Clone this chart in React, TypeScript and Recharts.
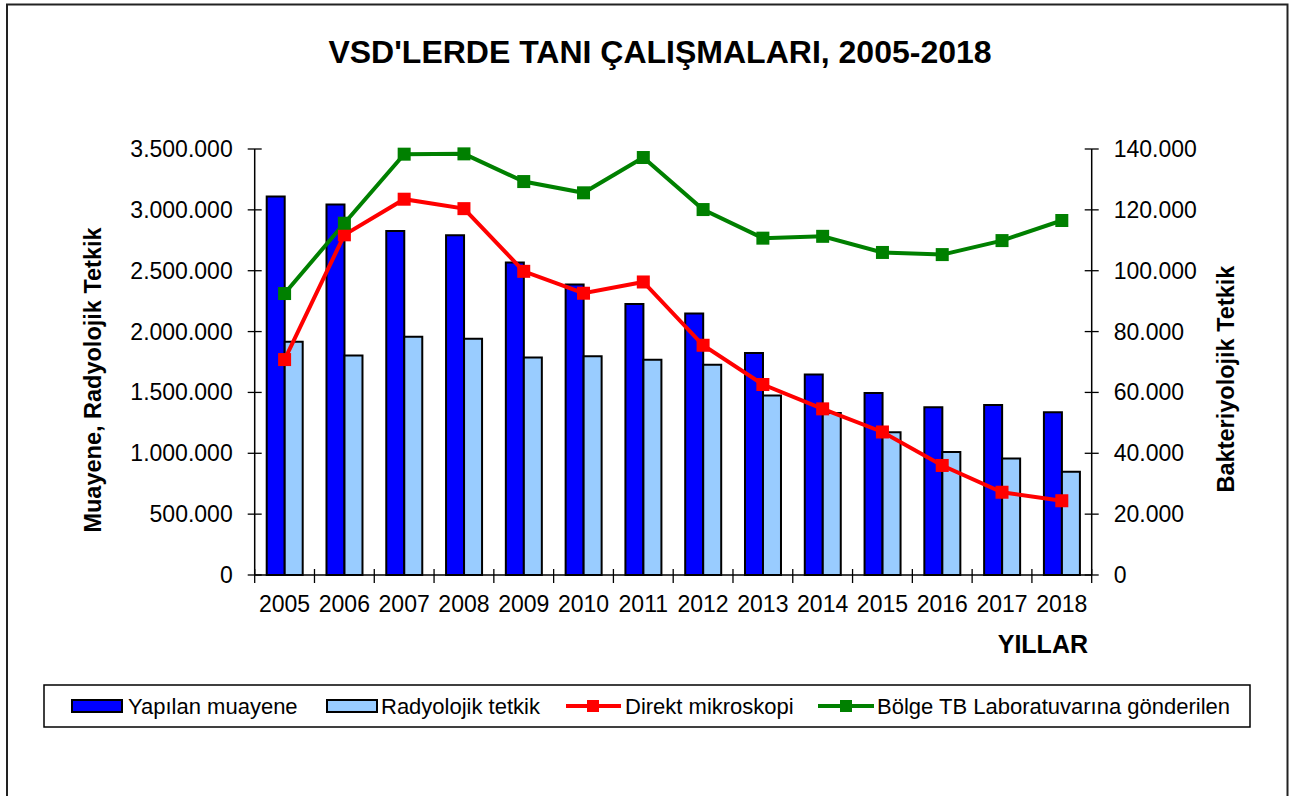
import React from 'react';
import { ComposedChart, Bar, Line, XAxis, YAxis } from 'recharts';

const YEARS = ['2005', '2006', '2007', '2008', '2009', '2010', '2011', '2012', '2013', '2014', '2015', '2016', '2017', '2018'];
const MUAYENE = [3110000, 3044000, 2827000, 2792000, 2567000, 2386000, 2226000, 2149000, 1823000, 1647000, 1496000, 1378000, 1397000, 1337000];
const RADYOLOJIK = [1916000, 1803000, 1957000, 1941000, 1787000, 1798000, 1768000, 1727000, 1474000, 1331000, 1172000, 1010000, 958000, 848000];
const DIREKT = [70800, 111800, 123500, 120400, 99800, 92600, 96300, 75500, 62600, 54600, 47000, 36000, 27200, 24400];
const BOLGE = [92500, 115600, 138300, 138400, 129300, 125600, 137200, 120100, 110700, 111300, 106000, 105300, 109900, 116500];
const LEFT_TICKS = [0, 500000, 1000000, 1500000, 2000000, 2500000, 3000000, 3500000];
const RIGHT_TICKS = [0, 20000, 40000, 60000, 80000, 100000, 120000, 140000];

const TITLE = "VSD'LERDE TANI ÇALIŞMALARI, 2005-2018";
const LEFT_LABEL = 'Muayene, Radyolojik Tetkik';
const RIGHT_LABEL = 'Bakteriyolojik Tetkik';
const X_LABEL = 'YILLAR';
const SERIES_NAMES = ['Yapılan muayene', 'Radyolojik tetkik', 'Direkt mikroskopi', 'Bölge TB Laboratuvarına gönderilen'];

const data = YEARS.map((y, i) => ({
  year: y,
  muayene: MUAYENE[i],
  radyolojik: RADYOLOJIK[i],
  direkt: DIREKT[i],
  bolge: BOLGE[i],
}));

const FONT = '"Liberation Sans", Arial, sans-serif';
const W = 1290;
const H = 796;
const PLOT_LEFT = 254.7;
const PLOT_RIGHT = 1091.7;
const PLOT_TOP = 149;
const PLOT_BOTTOM = 575;
const AXIS_W = 100;
const XAXIS_H = 40;
const BAND = (PLOT_RIGHT - PLOT_LEFT) / YEARS.length;
const BLUE = '#0000FF';
const LIGHT = '#99CCFF';
const RED = '#FF0000';
const GREEN = '#008000';

const fmt = (v: number) => String(v).replace(/\B(?=(\d{3})+(?!\d))/g, '.');

const LeftTick = (props: any) => {
  const { x, y, payload } = props;
  const ax = x + 22;
  return (
    <g>
      <line x1={ax - 7} x2={ax + 7} y1={y} y2={y} stroke="#000" strokeWidth={1.3} />
      <text x={x} y={y} textAnchor="end" dominantBaseline="central" fontSize={23} fontFamily={FONT} fill="#000">
        {fmt(payload.value)}
      </text>
    </g>
  );
};

const RightTick = (props: any) => {
  const { x, y, payload } = props;
  const ax = x - 22;
  return (
    <g>
      <line x1={ax - 7} x2={ax + 7} y1={y} y2={y} stroke="#000" strokeWidth={1.3} />
      <text x={x} y={y} textAnchor="start" dominantBaseline="central" fontSize={23} fontFamily={FONT} fill="#000">
        {fmt(payload.value)}
      </text>
    </g>
  );
};

const XTick = (props: any) => {
  const { x, y, payload, index } = props;
  const ay = y - 16;
  return (
    <g>
      <line x1={x - BAND / 2} x2={x - BAND / 2} y1={ay - 6} y2={ay + 8} stroke="#000" strokeWidth={1.3} />
      {index === YEARS.length - 1 ? (
        <line x1={x + BAND / 2} x2={x + BAND / 2} y1={ay - 6} y2={ay + 8} stroke="#000" strokeWidth={1.3} />
      ) : null}
      <text x={x} y={y + 21} textAnchor="middle" fontSize={23} fontFamily={FONT} fill="#000">
        {payload.value}
      </text>
    </g>
  );
};

const squareDot = (color: string) => (props: any) => {
  const { cx, cy, index } = props;
  if (cx == null || cy == null) return <g key={`d-${index}`} />;
  return <rect key={`d-${color}-${index}`} x={cx - 6.5} y={cy - 6.5} width={13} height={13} fill={color} />;
};

export default function App() {
  return (
    <div style={{ position: 'absolute', left: 0, top: 0, width: W, height: H, overflow: 'hidden', background: '#fff', fontFamily: FONT }}>
      <div style={{ position: 'absolute', left: 0, top: 0 }}>
        <ComposedChart
          width={W}
          height={H}
          data={data}
          margin={{
            top: PLOT_TOP,
            left: PLOT_LEFT - AXIS_W,
            right: W - PLOT_RIGHT - AXIS_W,
            bottom: H - PLOT_BOTTOM - XAXIS_H,
          }}
          barCategoryGap={12}
          barGap={0}
        >
          <XAxis
            dataKey="year"
            height={XAXIS_H}
            axisLine={{ stroke: '#000', strokeWidth: 1.5 }}
            tickLine={false}
            tickSize={8}
            tickMargin={8}
            interval={0}
            tick={<XTick />}
          />
          <YAxis
            yAxisId="left"
            orientation="left"
            width={AXIS_W}
            domain={[0, 3500000]}
            ticks={LEFT_TICKS}
            interval={0}
            axisLine={{ stroke: '#000', strokeWidth: 1.5 }}
            tickLine={false}
            tickSize={8}
            tickMargin={14}
            tick={<LeftTick />}
          />
          <YAxis
            yAxisId="right"
            orientation="right"
            width={AXIS_W}
            domain={[0, 140000]}
            ticks={RIGHT_TICKS}
            interval={0}
            axisLine={{ stroke: '#000', strokeWidth: 1.5 }}
            tickLine={false}
            tickSize={8}
            tickMargin={14}
            tick={<RightTick />}
          />
          <Bar yAxisId="left" dataKey="muayene" name={SERIES_NAMES[0]} fill={BLUE} stroke="#000" strokeWidth={2} isAnimationActive={false} />
          <Bar yAxisId="left" dataKey="radyolojik" name={SERIES_NAMES[1]} fill={LIGHT} stroke="#000" strokeWidth={2} isAnimationActive={false} />
          <Line yAxisId="right" type="linear" dataKey="direkt" name={SERIES_NAMES[2]} stroke={RED} strokeWidth={4} dot={squareDot(RED)} activeDot={false} isAnimationActive={false} />
          <Line yAxisId="right" type="linear" dataKey="bolge" name={SERIES_NAMES[3]} stroke={GREEN} strokeWidth={4} dot={squareDot(GREEN)} activeDot={false} isAnimationActive={false} />
        </ComposedChart>
      </div>
      <svg width={W} height={H} style={{ position: 'absolute', left: 0, top: 0 }} fontFamily={FONT}>
        <rect x={7} y={4.5} width={1280.5} height={900} fill="none" stroke="#222" strokeWidth={2} />
        <text x={660} y={63} textAnchor="middle" fontSize={32} fontWeight="bold" fill="#000">{TITLE}</text>
        <text x={93} y={380} transform="rotate(-90 93 380)" textAnchor="middle" dominantBaseline="central" fontSize={23.5} fontWeight="bold" fill="#000">{LEFT_LABEL}</text>
        <text x={1226} y={379} transform="rotate(-90 1226 379)" textAnchor="middle" dominantBaseline="central" fontSize={23.5} fontWeight="bold" fill="#000">{RIGHT_LABEL}</text>
        <text x={1088} y={653} textAnchor="end" fontSize={25} fontWeight="bold" fill="#000">{X_LABEL}</text>
        <g>
          <rect x={44} y={685} width={1206} height={42} fill="#fff" stroke="#000" strokeWidth={1.5} />
          <rect x={72} y={700} width={50} height={12} fill={BLUE} stroke="#000" strokeWidth={2} />
          <text x={128} y={706} dominantBaseline="central" fontSize={22} fill="#000">{SERIES_NAMES[0]}</text>
          <rect x={327} y={700} width={50} height={12} fill={LIGHT} stroke="#000" strokeWidth={2} />
          <text x={381} y={706} dominantBaseline="central" fontSize={22} fill="#000">{SERIES_NAMES[1]}</text>
          <line x1={566} x2={621} y1={706} y2={706} stroke={RED} strokeWidth={4} />
          <rect x={587} y={700} width={12} height={12} fill={RED} />
          <text x={625} y={706} dominantBaseline="central" fontSize={22} fill="#000">{SERIES_NAMES[2]}</text>
          <line x1={818} x2={874} y1={706} y2={706} stroke={GREEN} strokeWidth={4} />
          <rect x={840} y={700} width={12} height={12} fill={GREEN} />
          <text x={877} y={706} dominantBaseline="central" fontSize={22} fill="#000">{SERIES_NAMES[3]}</text>
        </g>
      </svg>
    </div>
  );
}
